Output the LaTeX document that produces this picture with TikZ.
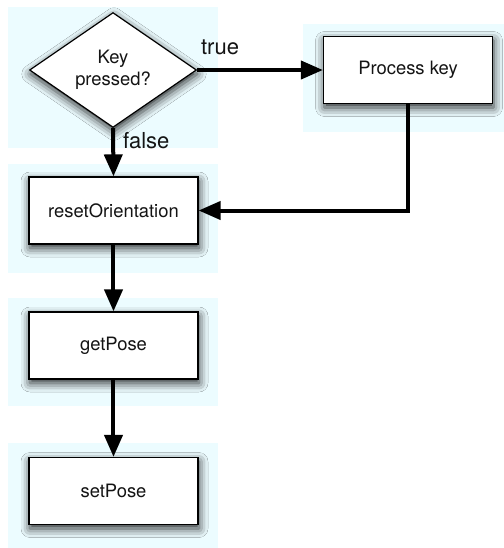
\documentclass[tikz,border=0pt]{standalone}
\usepackage{fontspec}
\setmainfont{TeX Gyre Heros}
\usetikzlibrary{shapes.geometric,arrows.meta,shadows.blur}
\definecolor{panelcyan}{RGB}{236,252,255}
\definecolor{textgray}{RGB}{20,20,20}
\tikzset{
    panel/.style={fill=panelcyan, draw=none},
    stepbox/.style={rectangle, draw=black, line width=0.6pt, fill=white,
        minimum width=84.5pt, minimum height=33.5pt, inner sep=0pt,
        text=textgray, font=\fontsize{9.2}{11}\selectfont,
        blur shadow={shadow xshift=0.5pt, shadow yshift=-2pt,
            shadow blur radius=4.5pt, shadow opacity=85}},
    decision/.style={stepbox, diamond, minimum width=83.5pt,
        minimum height=49pt, align=center},
    flow/.style={line width=2pt, -{Triangle[length=11pt,width=9pt]}},
    flowlabel/.style={inner sep=0pt, text=textgray,
        font=\fontsize{11}{13}\selectfont},
}
\begin{document}
\begin{tikzpicture}[x=0.5pt,y=-0.5pt]
    \fill[white] (0,0) rectangle (504,548);
    \useasboundingbox (0,0) rectangle (504,548);
    % light panels behind each step
    \fill[panel] (8,7) rectangle (218,148);
    \fill[panel] (303,24) rectangle (504,132);
    \fill[panel] (8,164) rectangle (218,273);
    \fill[panel] (8,298) rectangle (218,406);
    \fill[panel] (8,443) rectangle (218,548);

    \node[decision] (key) at (113,70) {Key\\pressed?};
    \node[stepbox] (process) at (408,70) {Process key};
    \node[stepbox] (reset) at (113.5,210.5) {resetOrientation};
    \node[stepbox] (getpose) at (113.5,345.5) {getPose};
    \node[stepbox] (setpose) at (113.5,491) {setPose};

    \draw[flow] (key.east) -- (process.west)
        node[flowlabel, pos=0, anchor=south west, xshift=1pt, yshift=6.5pt] {true};
    \draw[flow] (key.south) -- (reset.north)
        node[flowlabel, pos=0.25, anchor=west, xshift=4pt] {false};
    \draw[flow] (process.south) |- (reset.east);
    \draw[flow] (reset) -- (getpose);
    \draw[flow] (getpose) -- (setpose);
\end{tikzpicture}
\end{document}
